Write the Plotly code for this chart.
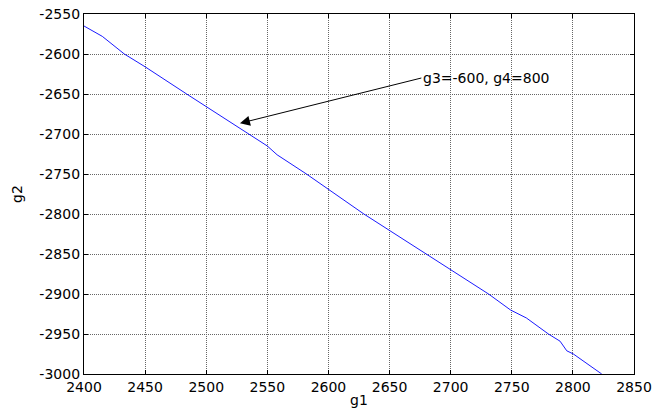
import plotly.graph_objects as go

g1 = [2400, 2415, 2433, 2450, 2484, 2534, 2550, 2558, 2582, 2629, 2680, 2731, 2749, 2762, 2780, 2789.5, 2795, 2800.4, 2823.6]
g2 = [-2565, -2578, -2600, -2616, -2650, -2700, -2715, -2726, -2750, -2800, -2850, -2900, -2920, -2930, -2950, -2959, -2971, -2975, -3000]

x_ticks = [2400, 2450, 2500, 2550, 2600, 2650, 2700, 2750, 2800, 2850]
y_ticks = [-3000, -2950, -2900, -2850, -2800, -2750, -2700, -2650, -2600, -2550]

label_text = "g3=-600, g4=800"
arrow_head = (2527.6, -2686.6)
arrow_tail = (2676, -2630)

FONT = "DejaVu Sans, Arial"
FS = 14

fig = go.Figure()
fig.add_trace(go.Scatter(x=g1, y=g2, mode="lines",
                         line=dict(color="#0000ff", width=0.9), showlegend=False))

axis_common = dict(
    showgrid=True, gridcolor="#666666", griddash="1px,1px", gridwidth=1,
    zeroline=False, showline=True, linecolor="black", linewidth=1.3,
    mirror="allticks", ticks="inside", ticklen=4, tickcolor="black",
    tickfont=dict(family=FONT, size=FS, color="black"), automargin=False,
)
fig.update_xaxes(range=[2400, 2850], tickvals=x_ticks, ticktext=[str(v) for v in x_ticks],
                 **axis_common)
fig.update_yaxes(range=[-3000, -2550], tickvals=y_ticks, ticktext=[str(v) for v in y_ticks],
                 **axis_common)

fig.add_annotation(xref="paper", yref="paper", x=0.5, y=0, yshift=-26,
                   text="g1", showarrow=False, xanchor="center", yanchor="middle",
                   font=dict(family=FONT, size=FS, color="black"))
fig.add_annotation(xref="paper", yref="paper", x=0, y=0.5, xshift=-67,
                   text="g2", showarrow=False, textangle=-90, xanchor="center", yanchor="middle",
                   font=dict(family=FONT, size=FS, color="black"))

fig.add_annotation(x=arrow_head[0], y=arrow_head[1], ax=arrow_tail[0], ay=arrow_tail[1],
                   axref="x", ayref="y", xref="x", yref="y",
                   text=label_text, showarrow=True, arrowhead=2, arrowsize=2,
                   arrowwidth=1, arrowcolor="black", xanchor="left",
                   font=dict(family=FONT, size=FS, color="black"))

fig.update_layout(width=652, height=414, plot_bgcolor="white", paper_bgcolor="white",
                  margin=dict(l=84, r=18, t=14, b=40, autoexpand=False))
fig.write_html("out.html", config={"displayModeBar": False},
               post_script="document.body.style.margin='0';document.body.style.overflow='hidden';")
